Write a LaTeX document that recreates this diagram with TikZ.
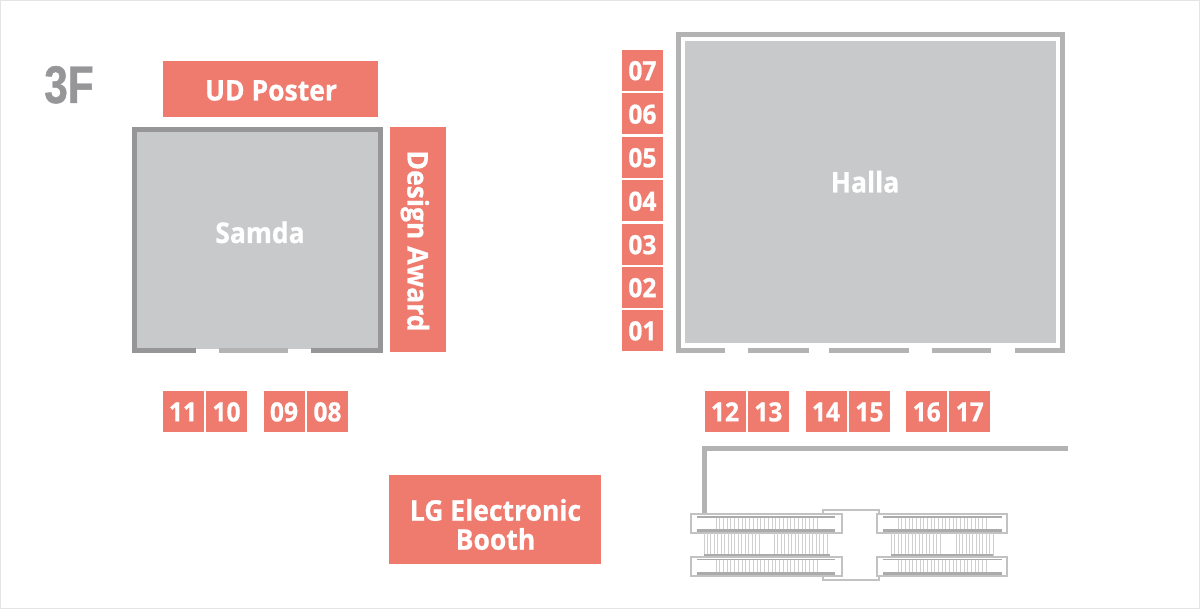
\documentclass[tikz,border=0pt]{standalone}
\usepackage{fontspec}
\setmainfont{Open Sans}[BoldFeatures={FakeStretch=0.93,FakeBold=0.7}]
\newfontfamily\narrowf{Liberation Sans}[BoldFeatures={FakeStretch=0.8,FakeBold=0.8}]
\definecolor{salmon}{HTML}{EF7A6E}
\definecolor{roomfill}{HTML}{C8C9CB}
\definecolor{walldark}{HTML}{969698}
\definecolor{walllight}{HTML}{B3B3B4}
\definecolor{esc}{HTML}{C2C2C3}
\definecolor{escdark}{HTML}{ABABAC}
\definecolor{escthin}{HTML}{CFCFD0}
\definecolor{frameg}{HTML}{E4E4E4}
\tikzset{
  x=1pt,y=-1pt,
  booth/.style={fill=salmon,text=white,anchor=north west,inner sep=0pt,
    font=\bfseries\fontsize{26.5}{30}\selectfont,text height=20pt,text depth=0pt,
    minimum width=41pt,minimum height=41pt},
  roomlabel/.style={text=white,inner sep=0pt,font=\bfseries\fontsize{28.5}{32}\selectfont,text height=19pt,text depth=0pt},
  walla/.style={fill=walldark,draw=none},
  wallb/.style={fill=walllight,draw=none},
  escframe/.style={draw=esc,line width=2pt,fill=white},
  escbarthin/.style={draw=escdark,line width=1.6pt},
  escbar/.style={draw=escdark,line width=3pt},
  esctick/.style={draw=escthin,line width=1pt},
}
\begin{document}
\begin{tikzpicture}
\useasboundingbox (0,0) rectangle (1200,609);
\fill[white] (0,0) rectangle (1200,609);
\draw[frameg,line width=1.5pt] (0,0) rectangle (1200,609);

% level label
\node[text=walldark,inner sep=0pt,font=\narrowf\bfseries\fontsize{53}{58}\selectfont,text height=38pt,text depth=0pt] (level) at (69,84) {3F};

% Samda
\fill[roomfill] (136,131) rectangle (379,349);
\fill[walla] (132,127.5) rectangle (383,132.5);
\fill[walla] (132,127.5) rectangle (137,353);
\fill[walla] (378,127.5) rectangle (383,353);
\fill[walla] (132,348) rectangle (195.5,353);
\fill[wallb] (218.5,348.5) rectangle (288,353);
\fill[walla] (310.5,348) rectangle (383,353);
\node[roomlabel] (samda) at (260,233.5) {Samda};

% Halla
\fill[roomfill] (684.7,41) rectangle (1056,343);
\fill[wallb] (676,32) rectangle (1065.3,37);
\fill[wallb] (676,32) rectangle (681,353.3);
\fill[wallb] (1060.3,32) rectangle (1065.3,353.3);
\foreach \a/\b in {676/724.5,748/808.5,829/909,932/991,1014.5/1065.3}
  \fill[wallb] (\a,348.3) rectangle (\b,353.3);
\node[roomlabel] (halla) at (865,183) {Halla};

% Big boxes
\node[fill=salmon,minimum width=215pt,minimum height=56pt,inner sep=0pt] (poster) at (270.5,89.5) {};
\node[roomlabel] (postertext) at (271,91) {UD Poster};
\node[fill=salmon,minimum width=56pt,minimum height=225pt,inner sep=0pt] (award) at (418,239.5) {};
\node[roomlabel,rotate=-90] (awardtext) at (417,241) {Design Award};
\node[fill=salmon,minimum width=212pt,minimum height=89pt,inner sep=0pt] (lgbox) at (495,519.5) {};
\node[text=white,inner sep=0pt,align=center,font=\bfseries\fontsize{28.5}{29}\selectfont] (lg) at (495.5,524.5) {LG Electronic\\Booth};

% Booths
\foreach \n/\y in {07/49.5,06/93,05/136.5,04/180,03/223.5,02/266.5,01/309.7}
  \node[booth] (b\n) at (621.7,\y) {\n};
\foreach \n/\x in {11/162.3,10/205.8,09/263.3,08/306.8,12/704.3,13/747.7,14/805.3,15/848.7,16/906,17/949}
  \node[booth] (b\n) at (\x,390.7) {\n};

% Corridor line
\fill[walllight] (702,446) rectangle (1067.6,451);
\fill[walllight] (702,446) rectangle (707,514);

% Escalators: centre link
\draw[escframe] (823,514) -- (823,509.5) -- (878.5,509.5) -- (878.5,514);
\draw[escframe] (823,576) -- (823,580) -- (878.5,580) -- (878.5,576);

% Escalators: banks
\foreach \xa/\xb/\ba/\bb/\ta/\tb/\tn/\ma/\mb/\mn/\mc/\md/\mm/\ia/\ib in
  {691/842/697/835/716/817/27/704/759/16/774/827/15/704/830,
   877/1007/883/1002/898/986/24/891/940/14/956/993/11/891/993}{
  \draw[escframe] (\xa,514) rectangle (\xb,533);
  \draw[escframe] (\xa,557) rectangle (\xb,576);
  \foreach \yy/\yz in {517/531,560/573}
    \foreach \t in {0,...,\tn}
      \draw[esctick] ({\ta+(\tb-\ta)*\t/\tn},\yy) -- ({\ta+(\tb-\ta)*\t/\tn},\yz);
  \foreach \t in {0,...,\mn}
    \draw[esctick] ({\ma+(\mb-\ma)*\t/\mn},533) -- ({\ma+(\mb-\ma)*\t/\mn},556);
  \foreach \t in {0,...,\mm}
    \draw[esctick] ({\mc+(\md-\mc)*\t/\mm},533) -- ({\mc+(\md-\mc)*\t/\mm},556);
  \draw[escbarthin] (\ba,517) -- (\bb,517);
  \draw[escbar] (\ba,530.5) -- (\bb,530.5);
  \draw[escbarthin] (\ia,555) -- (\ib,555);
  \draw[escbarthin] (\ba,559.5) -- (\bb,559.5);
  \draw[escbar] (\ba,573.5) -- (\bb,573.5);
}
\end{tikzpicture}
\end{document}
